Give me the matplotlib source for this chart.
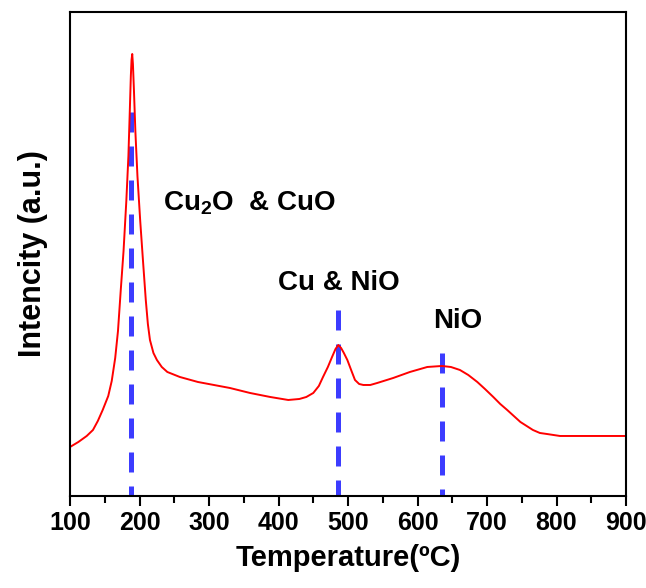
import matplotlib
matplotlib.use("Agg")
import matplotlib.pyplot as plt

plt.rcParams['font.family'] = ['Liberation Sans', 'DejaVu Sans']
plt.rcParams['font.weight'] = 'bold'
plt.rcParams['mathtext.fontset'] = 'custom'
plt.rcParams['mathtext.rm'] = 'Liberation Sans:bold'
plt.rcParams['mathtext.bf'] = 'Liberation Sans:bold'

# TPR profile
temperature = [100, 112, 124, 133, 140, 147, 155, 160, 165, 169, 173,
               177, 181, 184, 186, 187.5, 188.5, 189.5, 190.5, 192, 194,
               197, 201, 205, 209, 212, 215, 220, 225, 232, 240, 258,
               284, 330, 359, 388, 414, 430, 440, 450, 458, 464, 471,
               477, 482, 486, 490, 494, 499, 505, 510, 516, 522, 532,
               542, 565, 589, 614, 635, 648, 661, 673, 686, 697, 709,
               719, 729, 748, 757, 766, 776, 786, 805, 850, 900]
intensity = [49, 54, 60, 66, 75, 86, 100, 115, 138, 165, 206,
             245, 295, 340, 385, 420, 436, 442, 432, 405, 365,
             320, 275, 235, 196, 172, 156, 143, 136, 129, 124, 119,
             114, 108, 103, 99, 96, 97, 99, 103, 110, 119, 129,
             139, 147, 151, 148, 143, 136, 125, 116, 112, 111, 111,
             113, 118, 124, 129, 130, 129, 126, 121, 114, 107, 99,
             92, 86, 74, 70, 66, 63, 62, 60, 60, 60]

# reduction peaks: position and top of the marker line
peak_temps = [188, 486, 635]
peak_tops = [384, 186, 143]

# peak labels, left edge / baseline
labels = ['Cu$_\\mathbf{2}$O  & CuO', 'Cu & NiO', 'NiO']
label_x = [234, 399, 622]
label_y = [286, 206, 168]

fig = plt.figure(figsize=(6.46, 5.88), dpi=100)
ax = fig.add_axes([0.1084, 0.1565, 0.8607, 0.8231])

for t, top in zip(peak_temps, peak_tops):
    ax.plot([t, t], [top, 0], color='#3c3cff', lw=3.6,
            dashes=(4, 2.8), zorder=1)

ax.plot(temperature, intensity, color='red', lw=1.4, zorder=2)

for text, x, y in zip(labels, label_x, label_y):
    ax.text(x, y, text, fontsize=20, fontweight='bold',
            ha='left', va='baseline')

ax.set_xlim(100, 900)
ax.set_ylim(0, 484)
ax.set_xticks(range(100, 901, 100))
ax.set_xticks(range(150, 900, 100), minor=True)
ax.set_yticks([])
ax.tick_params(axis='x', which='major', direction='out', length=7,
               width=1.5, labelsize=18, pad=4)
ax.tick_params(axis='x', which='minor', direction='out', length=5,
               width=1.5)
for lab in ax.get_xticklabels():
    lab.set_fontweight('bold')
for sp in ax.spines.values():
    sp.set_linewidth(1.5)

ax.set_xlabel('Temperature(ºC)', fontsize=21, fontweight='bold', labelpad=6)
ax.set_ylabel('Intencity (a.u.)', fontsize=22, fontweight='bold', labelpad=16)

fig.savefig('out.png', dpi=100)
